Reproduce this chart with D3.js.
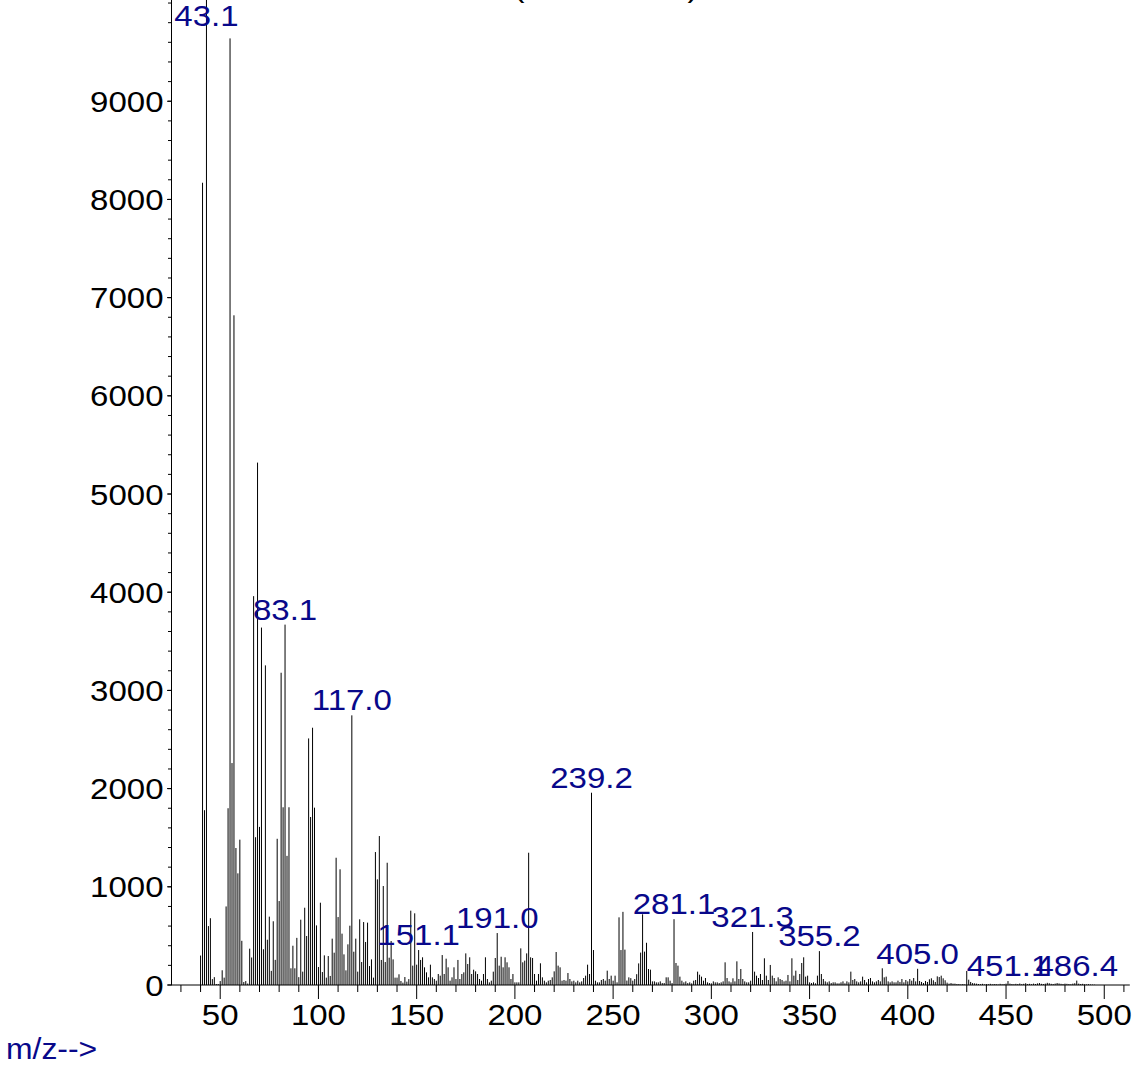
<html>
<head>
<meta charset="utf-8">
<script src="https://cdn.jsdelivr.net/npm/d3@7/dist/d3.min.js"></script>
<style>
  body { margin: 0; background: white; }
  text { font-family: "Liberation Sans", Arial, Helvetica, sans-serif; }
</style>
</head>
<body>
<svg id="spectrum" width="1134" height="1065"></svg>
<script>

// abundance per integer m/z, one array per hundred (first m/z given by the name)
var abund40 = [
  300, 8170, 1780, 10400, 600, 680, 60, 80, 10, 10,
  40, 150, 75, 800, 1800, 9640, 2260, 6820, 1395, 1137,
  1480, 450, 30, 40, 15, 370, 280, 3960, 1505, 5320,
  1610, 3640, 364, 3255, 461, 696, 144, 649, 256, 1489,
  855, 3180, 1810, 3670, 1315, 1810, 170, 400, 170, 480,
  80, 665, 136, 787, 499, 2511, 1711, 2620, 1806, 607
];
var abund100 = [
  183, 838, 132, 302, 75, 295, 92, 472, 329, 1296,
  692, 1178, 523, 312, 149, 414, 604, 2746, 339, 472,
  136, 669, 234, 641, 438, 635, 193, 261, 75, 1354,
  1076, 1517, 255, 1008, 234, 1245, 278, 448, 261, 75,
  75, 109, 41, 24, 81, 34, 60, 757, 197, 730,
  207, 356, 255, 282, 180, 129, 78, 207, 78, 61,
  44, 112, 95, 305, 112, 268, 180, 44, 78, 180,
  61, 255, 61, 112, 129, 322, 214, 282, 112, 156,
  139, 112, 61, 44, 112, 282, 61, 27, 44, 136,
  275, 529, 197, 288, 180, 282, 231, 180, 61, 112
];
var abund200 = [
  27, 27, 27, 373, 231, 248, 322, 1347, 282, 275,
  112, 44, 112, 221, 78, 44, 27, 44, 51, 78,
  139, 336, 197, 180, 44, 51, 44, 122, 61, 37,
  44, 27, 44, 27, 37, 71, 95, 207, 112, 1958,
  356, 44, 27, 27, 51, 61, 44, 146, 61, 95,
  44, 95, 27, 689, 356, 745, 360, 45, 78, 70,
  44, 61, 110, 220, 330, 720, 340, 430, 163, 156,
  37, 37, 27, 27, 37, 20, 20, 78, 78, 44,
  20, 670, 224, 197, 85, 44, 27, 37, 20, 27,
  17, 44, 51, 136, 105, 85, 44, 71, 27, 20
];
var abund300 = [
  17, 37, 27, 27, 20, 27, 37, 231, 71, 37,
  27, 68, 37, 241, 61, 163, 61, 37, 27, 27,
  44, 540, 136, 95, 71, 112, 51, 272, 95, 51,
  204, 95, 71, 37, 78, 61, 51, 37, 44, 102,
  37, 272, 95, 146, 51, 112, 224, 282, 85, 95,
  27, 20, 27, 17, 95, 345, 112, 61, 37, 27,
  37, 20, 27, 27, 17, 17, 27, 37, 17, 37,
  27, 136, 51, 61, 37, 27, 37, 85, 51, 27,
  61, 71, 37, 27, 37, 51, 37, 170, 78, 85,
  37, 27, 37, 27, 27, 44, 30, 61, 27, 51
];
var abund400 = [
  37, 61, 44, 71, 37, 165, 41, 31, 20, 41,
  31, 58, 68, 48, 31, 88, 81, 95, 68, 48,
  24, 14, 20, 14, 14, 10, 10, 7, 10, 7,
  143, 54, 31, 20, 17, 14, 10, 8, 12, 6,
  10, 8, 12, 7, 10, 9, 6, 12, 8, 10,
  14, 40, 14, 10, 8, 12, 10, 15, 8, 12,
  18, 10, 12, 8, 14, 10, 16, 20, 12, 10,
  14, 22, 18, 12, 10, 14, 20, 16, 12, 10,
  14, 12, 10, 8, 14, 18, 45, 14, 10, 12,
  8, 6, 8, 5, 4, 3
];

// labelled peaks
var peakMz = [43, 83, 117, 151, 191, 239, 281, 321, 355, 405, 451, 486];
var peakText = ["43.1", "83.1", "117.0", "151.1", "191.0", "239.2", "281.1", "321.3", "355.2", "405.0", "451.1", "486.4"];

var xTickLabels = [50, 100, 150, 200, 250, 300, 350, 400, 450, 500];
var yTickLabels = [0, 1000, 2000, 3000, 4000, 5000, 6000, 7000, 8000, 9000];

// put the pieces together
var spectrum = [];
[[40, abund40], [100, abund100], [200, abund200], [300, abund300], [400, abund400]].forEach(function (p) {
  p[1].forEach(function (v, i) { spectrum.push({mz: p[0] + i, ab: v}); });
});

var svg = d3.select("#spectrum");
var blue = "#08088a";
var stretch = 1.1; // the original font is a bit wider than Liberation Sans

var x = d3.scaleLinear().domain([25, 513]).range([171.1, 1129.8]);
var y = d3.scaleLinear().domain([0, 10031]).range([985, 0]);

// text helper: wide text anchored at (tx, ty)
var wideText = function (sel, tx, ty, anchor, size, colour, str) {
  return sel.append("text")
    .attr("transform", "translate(" + tx + "," + ty + ") scale(" + stretch + ",1)")
    .attr("text-anchor", anchor)
    .attr("font-size", size)
    .attr("fill", colour)
    .text(str);
};

// title (mostly above the visible area)
wideText(svg, 606, -3.5, "middle", 30, "black", "(12.345 min)");

// bars
svg.append("g").selectAll("line")
  .data(spectrum)
  .enter().append("line")
  .attr("x1", function (d) { return x(d.mz); })
  .attr("x2", function (d) { return x(d.mz); })
  .attr("y1", y(0))
  .attr("y2", function (d) { return y(d.ab); })
  .attr("stroke", "black")
  .attr("stroke-width", 1);

// y axis
var yAxis = svg.append("g").attr("transform", "translate(171.5,0)");
yAxis.append("line")
  .attr("x1", 0).attr("x2", 0)
  .attr("y1", 0).attr("y2", y(0))
  .attr("stroke", "black").attr("stroke-width", 1);
yAxis.selectAll(".minor")
  .data(d3.range(0, 10001, 200))
  .enter().append("line")
  .attr("x1", -3.5).attr("x2", 0)
  .attr("y1", function (d) { return y(d); })
  .attr("y2", function (d) { return y(d); })
  .attr("stroke", "black").attr("stroke-width", 1);
yAxis.selectAll(".maj")
  .data(yTickLabels)
  .enter().append("line")
  .attr("x1", -4.5).attr("x2", 0)
  .attr("y1", function (d) { return y(d); })
  .attr("y2", function (d) { return y(d); })
  .attr("stroke", "black").attr("stroke-width", 1);
yTickLabels.forEach(function (d) {
  wideText(yAxis, -8, y(d) + 10.5, "end", 30, "black", d);
});

// x axis
var xAxis = svg.append("g");
xAxis.append("line")
  .attr("x1", x(25)).attr("x2", x(513))
  .attr("y1", 985).attr("y2", 985)
  .attr("stroke", "black").attr("stroke-width", 1);
xAxis.selectAll(".minor")
  .data(d3.range(30, 511, 10))
  .enter().append("line")
  .attr("x1", function (d) { return x(d); })
  .attr("x2", function (d) { return x(d); })
  .attr("y1", 985)
  .attr("y2", function (d) { return d % 50 === 0 ? 999 : 992; })
  .attr("stroke", "black").attr("stroke-width", 1);
xTickLabels.forEach(function (d) {
  wideText(xAxis, x(d), 1025, "middle", 30, "black", d);
});

// peak labels
var byMz = {};
spectrum.forEach(function (d) { byMz[d.mz] = d.ab; });
var labels = svg.append("g");
peakMz.forEach(function (d, i) {
  wideText(labels, x(d), Math.max(y(byMz[d]) - 5, 26), "middle", 30, blue, peakText[i]);
});

wideText(svg, 6, 1059, "start", 29, blue, "m/z-->");

</script>
</body>
</html>
